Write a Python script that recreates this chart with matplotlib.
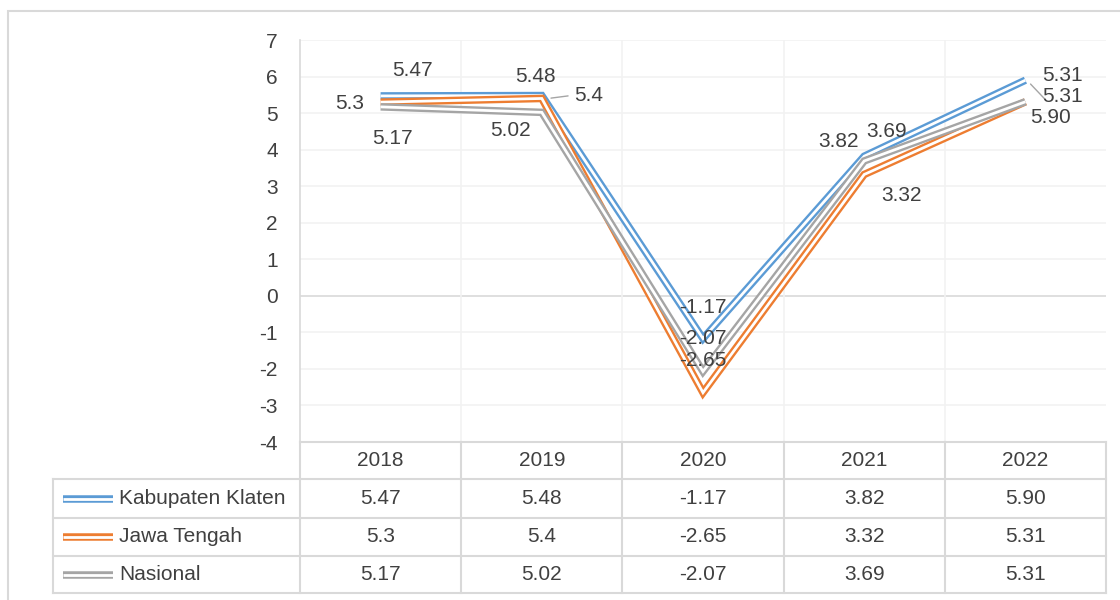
import matplotlib
matplotlib.use("Agg")
import matplotlib.pyplot as plt
from matplotlib.lines import Line2D
from matplotlib.patches import Rectangle

years = ["2018", "2019", "2020", "2021", "2022"]
series_names = ["Kabupaten Klaten", "Jawa Tengah", "Nasional"]
klaten = [5.47, 5.48, -1.17, 3.82, 5.90]
jateng = [5.3, 5.4, -2.65, 3.32, 5.31]
nasional = [5.17, 5.02, -2.07, 3.69, 5.31]
table_text = [["5.47", "5.48", "-1.17", "3.82", "5.90"],
              ["5.3", "5.4", "-2.65", "3.32", "5.31"],
              ["5.17", "5.02", "-2.07", "3.69", "5.31"]]
# label texts as they appear on the chart
klaten_lbl = ["5.47", "5.48", "-1.17", "3.82", "5.90"]
jateng_lbl = ["5.3", "5.4", "-2.65", "3.32", "5.31"]
nasional_lbl = ["5.17", "5.02", "-2.07", "3.69", "5.31"]
yticks = [7, 6, 5, 4, 3, 2, 1, 0, -1, -2, -3, -4]

colors = ["#5B9BD5", "#ED7D31", "#A5A5A5"]
txt_col = "#404040"
border = "#D9D9D9"
fs = 15
outer_lw, inner_lw = 5.4, 2.0  # compound (double) line

W, H = 1120, 600
fig = plt.figure(figsize=(W / 100, H / 100), dpi=100)
plt.rcParams['font.family'] = ['Liberation Sans', 'DejaVu Sans']


def fx(x):
    return x / W


def fy(y):
    return 1 - y / H


L, R, T, B = 300, 1106, 40, 442
ax = fig.add_axes([fx(L), fy(B), fx(R) - fx(L), fy(T) - fy(B)])
ax.set_xlim(-0.5, 4.5)
ax.set_ylim(-4, 7)
for s in ["top", "right", "bottom"]:
    ax.spines[s].set_visible(False)
ax.spines["left"].set_color(border)
ax.spines["left"].set_linewidth(1.2)
ax.set_xticks([])
ax.set_yticks(yticks)
ax.set_yticklabels([str(t) for t in yticks])
ax.tick_params(axis="y", length=0, pad=16, labelsize=fs, labelcolor=txt_col)
for t in yticks:
    if t == 0:
        ax.axhline(t, color=border, lw=1.2, zorder=1)
    else:
        ax.axhline(t, color="#F2F2F2", lw=1.2, zorder=1)
for i in range(1, 5):
    ax.axvline(i - 0.5, color="#F2F2F2", lw=1.2, zorder=1)

xs = list(range(len(years)))
all_series = [klaten, jateng, nasional]
for vals, c in zip(all_series, colors):
    ax.plot(xs, vals, color=c, lw=outer_lw, solid_joinstyle="miter",
            solid_capstyle="butt", zorder=3)
    ax.plot(xs, vals, color="white", lw=inner_lw, solid_joinstyle="miter",
            solid_capstyle="butt", zorder=3)

# label offsets in pixels
klaten_off = [(32, 25), (-6, 19), (0, 31), (-26, 15), (25, -37)]
jateng_off = [(-31, -1), (47, 3), (0, 32), (37, -21), (37, 26)]
nasional_off = [(12, -32), (-31, -18), (0, 33), (22, 29), (37, 5)]
for vals, lbls, offs in [(klaten, klaten_lbl, klaten_off),
                         (jateng, jateng_lbl, jateng_off),
                         (nasional, nasional_lbl, nasional_off)]:
    for i in range(len(vals)):
        ax.annotate(lbls[i], (xs[i], vals[i]), xytext=offs[i],
                    textcoords="offset pixels", ha="center", va="center",
                    fontsize=fs, color=txt_col, zorder=5)

# leader lines
ax.annotate("", xy=(xs[1] + 0.04, jateng[1]), xytext=(xs[1] + 0.18, jateng[1] + 0.08),
            arrowprops=dict(arrowstyle="-", color="#A5A5A5", lw=1))
ax.annotate("", xy=(xs[4] + 0.02, klaten[4] - 0.05), xytext=(xs[4] + 0.13, nasional[4] + 0.03),
            arrowprops=dict(arrowstyle="-", color="#A5A5A5", lw=1))

# outer chart border
fig.patches.append(Rectangle((fx(8), fy(620)), fx(1130) - fx(8), fy(11) - fy(620),
                             transform=fig.transFigure, fill=False,
                             edgecolor=border, lw=1.5))

# data table
col_edges = [L + (R - L) * i / 5 for i in range(6)]
row_edges = [442, 479, 518, 556, 593]
leg_left = 53


def hline(x0, x1, y):
    fig.lines.append(Line2D([fx(x0), fx(x1)], [fy(y), fy(y)],
                            transform=fig.transFigure, color=border, lw=1.5))


def vline(x, y0, y1):
    fig.lines.append(Line2D([fx(x), fx(x)], [fy(y0), fy(y1)],
                            transform=fig.transFigure, color=border, lw=1.5))


hline(L, R, row_edges[0])
for y in row_edges[1:]:
    hline(leg_left, R, y)
for x in col_edges:
    vline(x, row_edges[0], row_edges[-1])
vline(leg_left, row_edges[1], row_edges[-1])

for j, yr in enumerate(years):
    cx = (col_edges[j] + col_edges[j + 1]) / 2
    cy = (row_edges[0] + row_edges[1]) / 2
    fig.text(fx(cx), fy(cy), yr, ha="center", va="center", fontsize=fs, color=txt_col)

for r in range(3):
    cy = (row_edges[r + 1] + row_edges[r + 2]) / 2
    for lw, c in [(outer_lw, colors[r]), (inner_lw, "white")]:
        fig.lines.append(Line2D([fx(63), fx(113)], [fy(cy), fy(cy)],
                                transform=fig.transFigure, color=c, lw=lw,
                                solid_capstyle="butt"))
    fig.text(fx(119), fy(cy), series_names[r], ha="left", va="center",
             fontsize=fs, color=txt_col)
    for j in range(5):
        cx = (col_edges[j] + col_edges[j + 1]) / 2
        fig.text(fx(cx), fy(cy), table_text[r][j], ha="center", va="center",
                 fontsize=fs, color=txt_col)

fig.savefig("out.png", dpi=100)
